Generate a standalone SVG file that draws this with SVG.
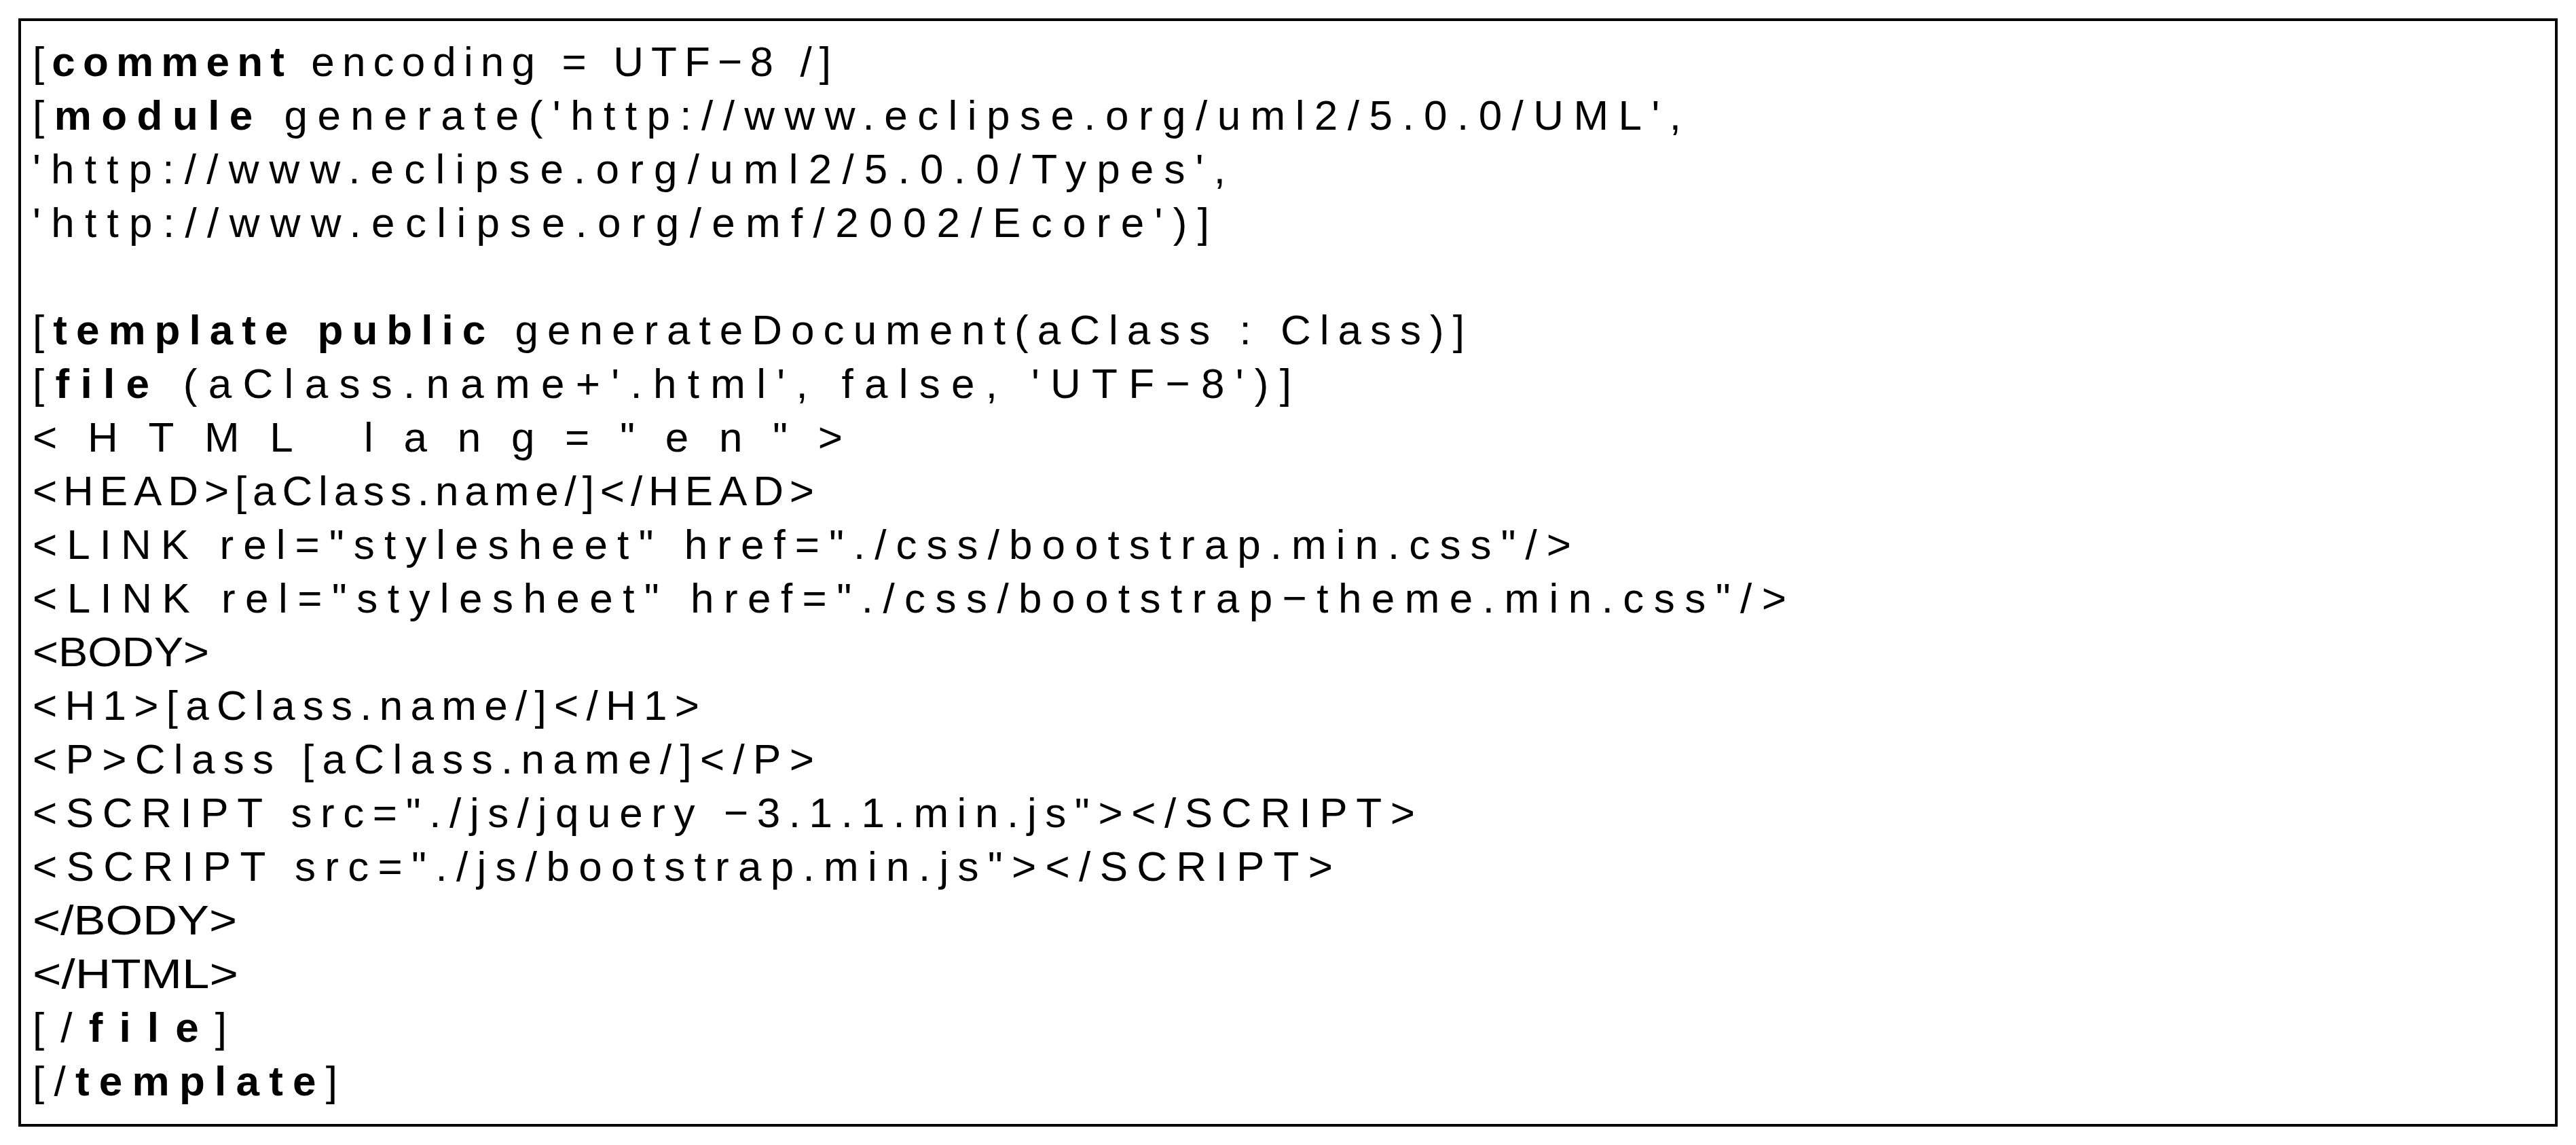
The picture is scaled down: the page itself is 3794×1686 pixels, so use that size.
<svg xmlns="http://www.w3.org/2000/svg" width="3794" height="1686" viewBox="0 0 3794 1686">
<style>
text{font-family:"Liberation Sans",Arial,sans-serif;font-size:62px;fill:#000}
.b{font-weight:bold}
</style>
<rect width="3794" height="1686" fill="#fff"/>
<g id="frame"><rect x="29" y="29" width="3736" height="1628" fill="none" stroke="#000" stroke-width="4"/></g>
<g id="code">
<text x="48" y="112" textLength="1176" lengthAdjust="spacing">[<tspan class="b">comment</tspan> encoding = UTF−8 /]</text>
<text x="48" y="191" textLength="2428" lengthAdjust="spacing">[<tspan class="b">module</tspan> generate('http://www.eclipse.org/uml2/5.0.0/UML',</text>
<text x="48" y="270" textLength="1757" lengthAdjust="spacing">'http://www.eclipse.org/uml2/5.0.0/Types',</text>
<text x="48" y="349" textLength="1733" lengthAdjust="spacing">'http://www.eclipse.org/emf/2002/Ecore')]</text>
<text x="48" y="507" textLength="2109" lengthAdjust="spacing">[<tspan class="b">template public</tspan> generateDocument(aClass : Class)]</text>
<text x="48" y="586" textLength="1854" lengthAdjust="spacing">[<tspan class="b">file</tspan> (aClass.name+'.html', false, 'UTF−8')]</text>
<text x="48" y="665" textLength="1193" lengthAdjust="spacing">&lt;HTML lang="en"&gt;</text>
<text x="48" y="744" textLength="1151" lengthAdjust="spacing">&lt;HEAD&gt;[aClass.name/]&lt;/HEAD&gt;</text>
<text x="48" y="823" textLength="2266" lengthAdjust="spacing">&lt;LINK rel="stylesheet" href="./css/bootstrap.min.css"/&gt;</text>
<text x="48" y="902" textLength="2583" lengthAdjust="spacing">&lt;LINK rel="stylesheet" href="./css/bootstrap−theme.min.css"/&gt;</text>
<text x="48" y="981" textLength="260" lengthAdjust="spacingAndGlyphs">&lt;BODY&gt;</text>
<text x="48" y="1060" textLength="982" lengthAdjust="spacing">&lt;H1&gt;[aClass.name/]&lt;/H1&gt;</text>
<text x="48" y="1139" textLength="1151" lengthAdjust="spacing">&lt;P&gt;Class [aClass.name/]&lt;/P&gt;</text>
<text x="48" y="1218" textLength="2036" lengthAdjust="spacing">&lt;SCRIPT src="./js/jquery −3.1.1.min.js"&gt;&lt;/SCRIPT&gt;</text>
<text x="48" y="1297" textLength="1915" lengthAdjust="spacing">&lt;SCRIPT src="./js/bootstrap.min.js"&gt;&lt;/SCRIPT&gt;</text>
<text x="48" y="1376" textLength="301" lengthAdjust="spacingAndGlyphs">&lt;/BODY&gt;</text>
<text x="48" y="1455" textLength="303" lengthAdjust="spacingAndGlyphs">&lt;/HTML&gt;</text>
<text x="48" y="1534" textLength="286" lengthAdjust="spacing">[/<tspan class="b">file</tspan>]</text>
<text x="48" y="1613" textLength="449" lengthAdjust="spacing">[/<tspan class="b">template</tspan>]</text>
</g>
</svg>
